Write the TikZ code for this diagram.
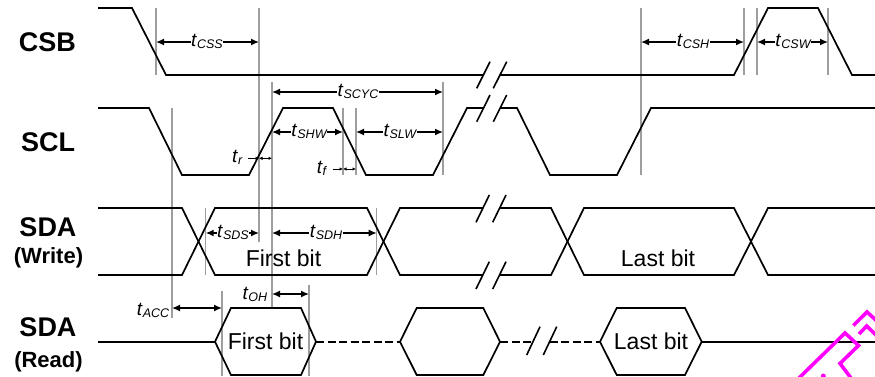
\documentclass[tikz,border=0pt]{standalone}
\usepackage{fontspec}
\setmainfont{Liberation Sans}
\usetikzlibrary{arrows.meta}
\definecolor{wmc}{RGB}{255,0,255}
\newcommand\tsub[1]{\textit{t}\raisebox{-2pt}{\fontsize{12.5}{12.5}\selectfont\itshape #1}}
\begin{document}
\begin{tikzpicture}[x=1pt,y=-1pt,
  sig/.style={line width=1.7pt},
  guide/.style={draw=black!38, line width=1.2pt},
  dimarr/.style={{Latex[length=8pt,width=7pt]}-{Latex[length=8pt,width=7pt]}, line width=1.4pt},
  smallarr/.style={{Latex[length=3.5pt,width=3.5pt]}-{Latex[length=3.5pt,width=3.5pt]}, line width=0.9pt},
  pointer/.style={-{Latex[length=3.5pt,width=3.5pt]}, line width=0.9pt},
  tl/.style={fill=white, inner sep=0.6pt, font=\fontsize{19}{19}\selectfont},
  tlp/.style={inner sep=0.6pt, font=\fontsize{19}{19}\selectfont},
  rowlab/.style={font=\bfseries\fontsize{27}{27}\selectfont, inner sep=0pt},
  sublab/.style={font=\bfseries\fontsize{22}{22}\selectfont, inner sep=0pt},
  bitlab/.style={font=\fontsize{23}{23}\selectfont, inner sep=0pt},
  brk/.style={line width=1.6pt},
  dsh/.style={line width=1.7pt, dash pattern=on 8pt off 3.5pt},
  wm/.style={draw=wmc, line width=3.6pt, line join=miter}]
\useasboundingbox (0,0) rectangle (875,376);

% guide lines
\draw[guide] (156,8) -- (156,75);
\draw[guide] (259,8) -- (259,242);
\draw[guide] (641,8) -- (641,175);
\draw[guide] (744,8) -- (744,75);
\draw[guide] (757,8) -- (757,75);
\draw[guide] (828,8) -- (828,75);
\draw[guide] (172,108) -- (172,318);
\draw[guide] (272,82) -- (272,308);
\draw[guide] (343,108) -- (343,175);
\draw[guide] (356,108) -- (356,175);
\draw[guide] (443,82) -- (443,175);
\draw[guide] (205.7,208) -- (205.7,275);
\draw[guide] (376.7,208) -- (376.7,275);
\draw[guide] (222,291) -- (222,376);
\draw[guide] (309,285) -- (309,376);

% row labels
\node[rowlab] (lcsb) at (47.5,42) {CSB};
\node[rowlab] (lscl) at (48,142) {SCL};
\node[rowlab] (lsdaw) at (48,227.5) {SDA};
\node[sublab] (lw) at (48.5,258) {(Write)};
\node[rowlab] (lsdar) at (48,327.5) {SDA};
\node[sublab] (lr) at (48.5,362) {(Read)};

% CSB
\draw[sig] (98,8) -- (132,8) -- (166,75) -- (483.3,75);
\draw[sig] (500,75) -- (734,75) -- (768,8) -- (818,8) -- (852,75) -- (875,75);
\draw[brk] (476.7,88.3) -- (490,61.7);
\draw[brk] (493.3,88.3) -- (506.7,61.7);

% SCL
\draw[sig] (98,108) -- (149,108) -- (182,175) -- (249,175) -- (283,108) -- (333,108)
  -- (366,175) -- (433,175) -- (467,108) -- (483.5,108);
\draw[sig] (500,108) -- (517,108) -- (550,175) -- (617,175) -- (651,108) -- (875,108);
\draw[brk] (476.7,121.7) -- (490,95);
\draw[brk] (493.3,121.7) -- (506.7,95);

% SDA write
\draw[sig] (98,208) -- (182,208) -- (215,275) -- (367,275) -- (400,208) -- (483,208);
\draw[sig] (98,275) -- (182,275) -- (215,208) -- (367,208) -- (400,275) -- (483,275);
\draw[sig] (500,208) -- (551,208) -- (584,275) -- (734,275) -- (768,208) -- (875,208);
\draw[sig] (500,275) -- (551,275) -- (584,208) -- (734,208) -- (768,275) -- (875,275);
\draw[brk] (476,222.3) -- (489.3,195);
\draw[brk] (492.7,222.3) -- (506,195);
\draw[brk] (476,289) -- (489.3,261.7);
\draw[brk] (492.7,289) -- (506,261.7);
\node[bitlab] (fbw) at (283.5,258) {First bit};
\node[bitlab] (lbw) at (658,258) {Last bit};

% SDA read
\draw[sig] (98,341.7) -- (215,341.7);
\draw[sig] (215,341.7) -- (231,308) -- (301,308) -- (316,341.7) -- (301,375) -- (231,375) -- cycle;
\draw[dsh] (316,341.7) -- (400,341.7);
\draw[sig] (400,341.7) -- (416.7,308) -- (483.3,308) -- (500,341.7) -- (483.3,375) -- (416.7,375) -- cycle;
\draw[dsh] (500,341.7) -- (533,341.7);
\draw[dsh] (549.6,341.7) -- (600,341.7);
\draw[brk] (526.7,355) -- (540,326.7);
\draw[brk] (543.3,355) -- (556.7,326.7);
\draw[sig] (600,341.7) -- (616.7,308) -- (685,308) -- (701.7,341.7) -- (685,375) -- (616.7,375) -- cycle;
\draw[sig] (701.7,341.7) -- (875,341.7);
\node[bitlab] (fbr) at (265.5,341.7) {First bit};
\node[bitlab] (lbr) at (651,341.7) {Last bit};

% dimension arrows
\draw[dimarr] (156,42) -- (259,42);
\draw[dimarr] (641,42) -- (744,42);
\draw[dimarr] (757,42) -- (828,42);
\draw[dimarr] (272,92) -- (443,92);
\draw[dimarr] (272,132) -- (343,132);
\draw[dimarr] (356,132) -- (443,132);
\draw[dimarr] (205.7,233) -- (259,233);
\draw[dimarr] (272,233) -- (376.7,233);
\draw[dimarr] (172,308) -- (222,308);
\draw[dimarr] (272,294) -- (309,294);
\draw[pointer] (248,158.3) -- (259,158.3);
\draw[smallarr] (259,158.3) -- (272,158.3);
\draw[pointer] (332.7,169) -- (343,169);
\draw[smallarr] (343,169) -- (356,169);

\node[tl] (tcss) at (207,41) {\tsub{CSS}};
\node[tl] (tcsh) at (693,41) {\tsub{CSH}};
\node[tl] (tcsw) at (793,41) {\tsub{CSW}};
\node[tl] (tscyc) at (358,91) {\tsub{SCYC}};
\node[tl] (tshw) at (309,131) {\tsub{SHW}};
\node[tl] (tslw) at (400,131) {\tsub{SLW}};
\node[tl] (tsds) at (233,232) {\tsub{SDS}};
\node[tl] (tsdh) at (326,232) {\tsub{SDH}};
\node[tlp, anchor=east] (tacc) at (170,310) {\tsub{ACC}};
\node[tlp, anchor=east] (toh) at (268,294) {\tsub{OH}};
\node[tlp, anchor=east] (tr) at (243,157) {\tsub{r}};
\node[tlp, anchor=east] (tf) at (327,168) {\tsub{f}};

% magenta mark (partial, cut by the picture edge)
\draw[wm] (799,378) -- (845,333) -- (858.5,345.5) -- (840,363.5) -- (851,378);
\draw[wm] (853.3,325.5) -- (867,312) -- (879,323);
\draw[wm] (859,334) -- (866.7,326) -- (879,338);
\fill[wmc] (823.3,376) circle (2.5pt);
\end{tikzpicture}
\end{document}
